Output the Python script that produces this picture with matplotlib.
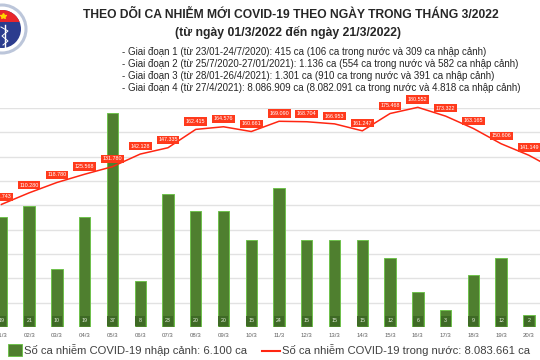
import matplotlib.pyplot as plt
from matplotlib.patches import Circle, Rectangle

# Du lieu doc tu hinh
dates = ["01/3", "02/3", "03/3", "04/3", "05/3", "06/3", "07/3", "08/3", "09/3", "10/3",
         "11/3", "12/3", "13/3", "14/3", "15/3", "16/3", "17/3", "18/3", "19/3", "20/3", "21/3"]
domestic = [100743, 110280, 118780, 125568, 131780, 142128, 147335, 162415, 164576, 160661,
            169090, 168704, 166953, 161247, 175468, 180552, 173322, 163165, 150606, 141149, 128751]
imported = [19, 21, 10, 19, 37, 8, 23, 20, 20, 15, 24, 15, 15, 15, 12, 6, 3, 9, 12, 2]

title = "THEO DÕI CA NHIỄM MỚI COVID-19 THEO NGÀY TRONG THÁNG 3/2022"
subtitle = "(từ ngày 01/3/2022 đến ngày 21/3/2022)"
phases = [
    "- Giai đoạn 1 (từ 23/01-24/7/2020): 415 ca (106 ca trong nước và 309 ca nhập cảnh)",
    "- Giai đoạn 2 (từ 25/7/2020-27/01/2021): 1.136 ca (554 ca trong nước và 582 ca nhập cảnh)",
    "- Giai đoạn 3 (từ 28/01-26/4/2021): 1.301 ca (910 ca trong nước và 391 ca nhập cảnh)",
    "- Giai đoạn 4 (từ 27/4/2021): 8.086.909 ca (8.082.091 ca trong nước và 4.818 ca nhập cảnh)",
]
legend_imported = "Số ca nhiễm COVID-19 nhập cảnh: 6.100 ca"
legend_domestic = "Số ca nhiễm COVID-19 trong nước: 8.083.661 ca"

BAR = '#4f7f2f'
BAR_EDGE = '#6fc24c'
RED = '#ff2612'

plt.rcParams['font.family'] = ['Liberation Sans', 'DejaVu Sans']

fig = plt.figure(figsize=(5.4, 3.6), dpi=100)
fig.patch.set_facecolor('white')

# truc chinh: chi luoi
ax = fig.add_axes([0, 33 / 360, 1, 219 / 360])
ax.set_facecolor('none')
ax.set_xlim(-0.05, 19.4)
ax.set_ylim(0, 180000)
ax.set_yticks(range(20000, 180001, 20000))
ax.grid(axis='y', color='#e2e2e2', linewidth=1)
ax.set_axisbelow(True)
ax.tick_params(axis='y', length=0, labelleft=False)
ax.set_xticks(range(len(imported)))
ax.set_xticklabels(dates[:len(imported)], fontsize=4.3, color='#606060')
ax.tick_params(axis='x', length=0, pad=4)
for s in ax.spines.values():
    s.set_visible(False)

# cot nhap canh
axb = ax.twinx()
axb.set_ylim(0, 219 / 5.78)
xs = list(range(len(imported)))
axb.bar(xs, imported, width=0.41, color=BAR, edgecolor=BAR_EDGE, linewidth=0.7)
axb.bar(xs, [1.7] * len(xs), bottom=0.25, width=0.36, color='#3e6a25', linewidth=0)
for x, v in zip(xs, imported):
    axb.text(x, 1.1, str(v), ha='center', va='center', fontsize=3.8, color='#e8eee0')
axb.axis('off')

# duong trong nuoc
axl = ax.twinx()
axl.set_ylim(0, 180000)
axl.plot(range(len(domestic)), domestic, color=RED, linewidth=1.1, clip_on=False)
for x, v in enumerate(domestic[:20]):
    axl.annotate(f"{v:,}".replace(",", "."), (x, v), xytext=(0, 5.6), textcoords='offset points',
                 ha='center', va='center', fontsize=3.9, color='white', annotation_clip=False,
                 bbox=dict(boxstyle='square,pad=0.3', facecolor='#ff3a1c', edgecolor='none'))
axl.axis('off')

# lop phu theo pixel: logo, tieu de, chu thich
ov = fig.add_axes([0, 0, 1, 1])
ov.set_xlim(0, 540)
ov.set_ylim(360, 0)
ov.axis('off')
ov.set_facecolor('none')

ov.add_patch(Circle((2, 29), 24, facecolor='white', edgecolor='#bcc6da', linewidth=2.2))
inner = Circle((2, 29), 19, facecolor='#2b3c8e', edgecolor='none')
ov.add_patch(inner)
red_top = Rectangle((-20, 5), 45, 17, facecolor='#e8262b', edgecolor='none')
ov.add_patch(red_top)
red_top.set_clip_path(inner)
ov.plot([3], [16], marker='*', color='#ffd400', markersize=4)
ov.plot([5, 5], [25, 47], color='white', linewidth=1)
ov.plot([1, 8, 2, 8, 3], [27, 31, 36, 41, 45], color='white', linewidth=0.7)

ov.text(291, 15, title, ha='center', va='center', fontsize=8.7, fontweight='bold', color='#262626')
ov.text(288, 32, subtitle, ha='center', va='center', fontsize=8.8, fontweight='bold', color='#262626')
for i, t in enumerate(phases):
    ov.text(122, 52 + 12 * i, t, ha='left', va='center', fontsize=7.05, color='#262626')

ov.add_patch(Rectangle((8, 344), 14, 12, facecolor=BAR, edgecolor=BAR_EDGE, linewidth=0.7))
ov.text(24, 350, legend_imported, ha='left', va='center', fontsize=8.15, color='#404040')
ov.plot([262, 280], [351, 351], color=RED, linewidth=1.5)
ov.text(282, 350, legend_domestic, ha='left', va='center', fontsize=8.15, color='#404040')

fig.savefig('out.png', dpi=100)
